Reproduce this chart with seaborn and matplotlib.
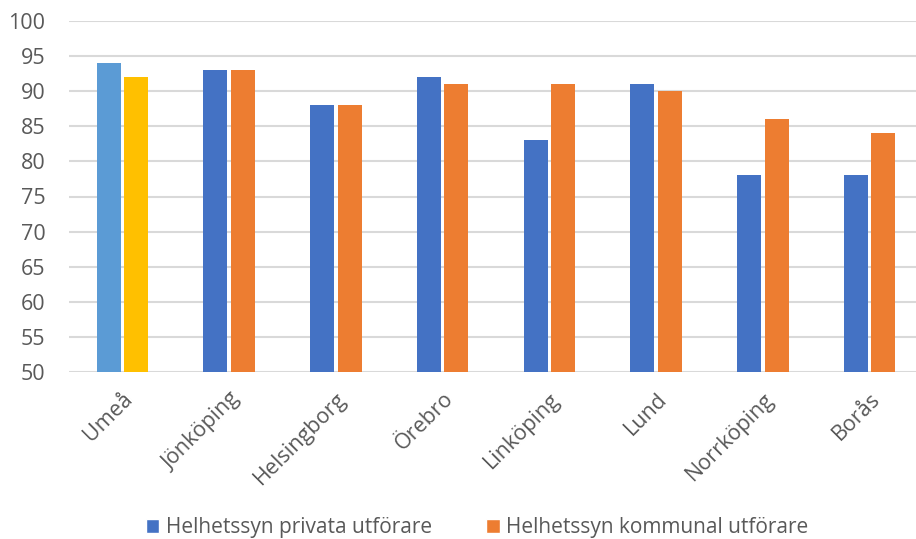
import matplotlib
matplotlib.use("Agg")
import matplotlib.pyplot as plt
import seaborn as sns
import pandas as pd
from matplotlib.patches import Patch

cities = ["Umeå", "Jönköping", "Helsingborg", "Örebro", "Linköping", "Lund", "Norrköping", "Borås"]
privata = [94, 93, 88, 92, 83, 91, 78, 78]
kommunal = [92, 93, 88, 91, 91, 90, 86, 84]
series = ["Helhetssyn privata utförare", "Helhetssyn kommunal utförare"]
yticks = [50, 55, 60, 65, 70, 75, 80, 85, 90, 95, 100]

df = pd.DataFrame({
    "city": cities * 2,
    "value": privata + kommunal,
    "series": [series[0]] * len(cities) + [series[1]] * len(cities),
})

sns.set_theme(style="white")
plt.rcParams["font.family"] = ["Open Sans", "DejaVu Sans"]
txt = "#595959"

fig = plt.figure(figsize=(9.16, 5.39), dpi=100)
ax = fig.add_axes([69 / 916, 1 - 372 / 539, (923 - 69) / 916, (372 - 21) / 539])

palette = {series[0]: "#4472C4", series[1]: "#ED7D31"}
sns.barplot(data=df, x="city", y="value", hue="series", order=cities, hue_order=series,
            palette=palette, width=0.514, gap=0.128, ax=ax, legend=False,
            linewidth=0, saturation=1)

# special colours for the first category
bars = [p for p in ax.patches]
nc = len(cities)
bars[0].set_facecolor("#5B9BD5")
bars[nc].set_facecolor("#FFC000")

ax.set_ylim(50, 100)
ax.set_yticks(yticks)
ax.set_xlim(-0.5, nc - 0.5)
ax.yaxis.grid(True, color="#D9D9D9", linewidth=1.5)
ax.set_axisbelow(True)
for s in ax.spines.values():
    s.set_visible(False)
ax.tick_params(axis="both", length=0, colors=txt, labelsize=15.5)
ax.tick_params(axis="y", pad=17)
ax.set_xlabel("")
ax.set_ylabel("")
plt.setp(ax.get_xticklabels(), rotation=45, ha="right", rotation_mode="anchor", color=txt)
ax.tick_params(axis="x", pad=12)

handles = [Patch(facecolor="#4472C4", label=series[0]), Patch(facecolor="#ED7D31", label=series[1])]
fig.legend(handles=handles, loc="center", bbox_to_anchor=(477 / 916, 1 - 528 / 539), ncol=2,
           frameon=False, fontsize=15, labelcolor=txt, handlelength=0.65, handleheight=0.65,
           handletextpad=0.3, columnspacing=2.6)

fig.savefig("out.png", dpi=100)
